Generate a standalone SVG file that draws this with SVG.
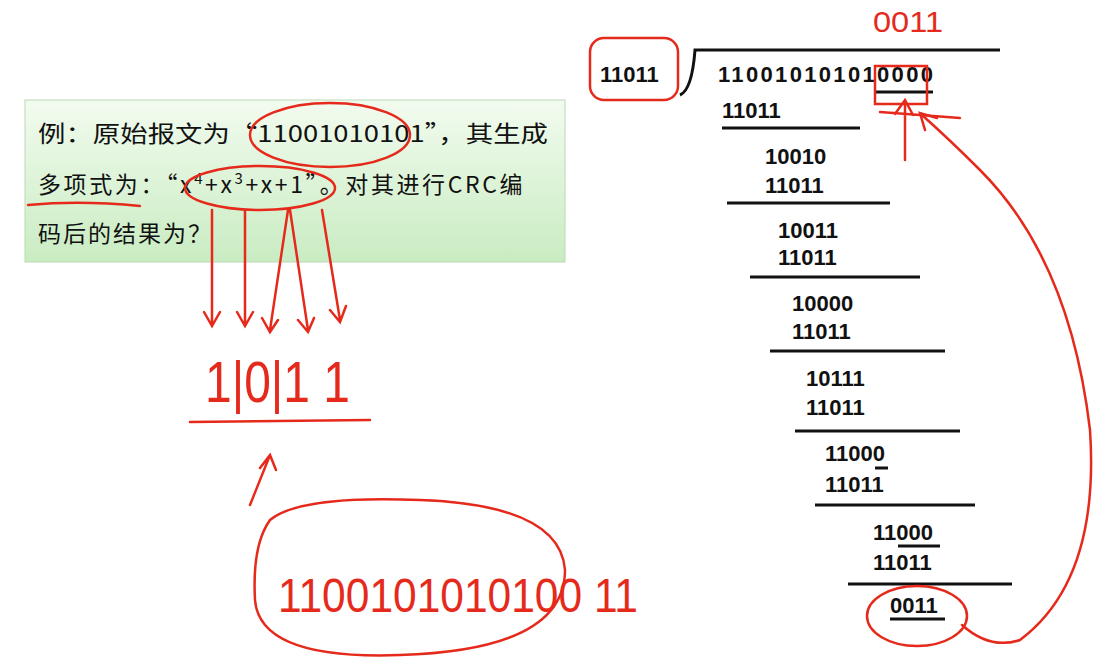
<svg xmlns="http://www.w3.org/2000/svg" width="1117" height="669" viewBox="0 0 1117 669">
<defs>
<linearGradient id="g" x1="0" y1="0" x2="0" y2="1"><stop offset="0" stop-color="#f2fbef"/><stop offset="1" stop-color="#c9ecc2"/></linearGradient>
<style>
.d{font-family:"Liberation Sans",Arial,sans-serif;font-weight:bold;font-size:22px;fill:#111}
.c{font-family:"Noto Sans CJK SC","Liberation Serif",serif;font-size:23px;fill:#111}
.k{stroke:#111;stroke-width:3;fill:none}
.r{stroke:#e52a1c;stroke-width:2.5;fill:none;stroke-linecap:round}
.h{font-family:"Liberation Sans",sans-serif;fill:#e52a1c}
</style>
</defs>
<rect width="1117" height="669" fill="#fff"/>
<g id="box">
<rect x="25" y="100" width="540" height="162" fill="url(#g)" stroke="#bcd9b5"/>
<text class="c" x="38" y="142" textLength="510" lengthAdjust="spacingAndGlyphs">例：原始报文为“11001010101”，其生成</text>
<text class="c" x="38" y="193" letter-spacing="2.6">多项式为：“x<tspan dy="-9" font-size="15">4</tspan><tspan dy="9">+x</tspan><tspan dy="-9" font-size="15">3</tspan><tspan dy="9">+x+1”。对其进行CRC编</tspan></text>
<text class="c" x="38" y="242" letter-spacing="2">码后的结果为？</text>
</g>
<g id="division">
<text class="d" x="600" y="82">11011</text>
<path class="k" d="M680 95 Q692 90 695 50 L1000 50"/>
<text class="d" x="718" y="82" textLength="215">110010101010000</text>
<line class="k" x1="876" y1="92" x2="933" y2="92" stroke-width="2"/>
<text class="d" x="722" y="118">11011</text><line class="k" x1="722" y1="128" x2="860" y2="128"/>
<text class="d" x="765" y="164">10010</text><text class="d" x="765" y="193">11011</text><line class="k" x1="727" y1="203" x2="890" y2="203"/>
<text class="d" x="778" y="238">10011</text><text class="d" x="778" y="265">11011</text><line class="k" x1="750" y1="277" x2="920" y2="277"/>
<text class="d" x="792" y="311">10000</text><text class="d" x="792" y="339">11011</text><line class="k" x1="770" y1="351" x2="945" y2="351"/>
<text class="d" x="806" y="386">10111</text><text class="d" x="806" y="415">11011</text><line class="k" x1="795" y1="431" x2="960" y2="431"/>
<text class="d" x="825" y="461">11000</text><line class="k" x1="875" y1="468" x2="888" y2="468" stroke-width="2"/><text class="d" x="825" y="492">11011</text><line class="k" x1="815" y1="505" x2="975" y2="505"/>
<text class="d" x="873" y="540">11000</text><line class="k" x1="898" y1="546" x2="940" y2="546" stroke-width="2"/><text class="d" x="873" y="570">11011</text><line class="k" x1="848" y1="584" x2="1012" y2="584"/>
<text class="d" x="890" y="613">0011</text><line class="k" x1="890" y1="619" x2="945" y2="619" stroke-width="2"/>
</g>
<g id="annotations">
<rect class="r" x="590" y="38" width="88" height="62" rx="14"/>
<rect class="r" x="875" y="66" width="52" height="38"/>
<text class="h" x="873" y="32" font-size="30" textLength="70" lengthAdjust="spacingAndGlyphs">0011</text>
<ellipse class="r" cx="330" cy="135" rx="80" ry="32"/>
<ellipse class="r" cx="260" cy="188" rx="75" ry="22"/>
<path class="r" d="M28 205 Q80 200 140 206"/>
<path class="r" d="M212 210 L212 325 M204 312 L212 326 L220 312 M245 210 L245 325 M237 312 L245 326 L253 312 M288 210 L270 330 M262 318 L270 332 L278 320 M290 210 L308 330 M298 320 L308 332 L314 318 M322 210 L340 320 M330 310 L340 322 L346 306"/>
<text class="h" x="205" y="402" font-size="58" textLength="145" lengthAdjust="spacingAndGlyphs">1|0|1 1</text>
<line class="r" x1="190" y1="422" x2="370" y2="420"/>
<path class="r" d="M250 505 L270 455 M260 468 L270 455 L276 470"/>
<path class="r" d="M270 520 Q300 495 420 500 Q560 505 565 570 Q565 650 400 655 Q260 660 255 600 Q252 545 270 520"/>
<text class="h" x="278" y="612" font-size="48" textLength="360" lengthAdjust="spacingAndGlyphs">1100101010100 11</text>
<path class="r" d="M905 160 L905 100 M895 114 L905 100 L913 115 M880 112 L960 118"/>
<ellipse class="r" cx="917" cy="616" rx="50" ry="30"/>
<path class="r" d="M962 625 Q990 650 1020 640 Q1100 580 1090 430 Q1070 260 980 170 Q950 140 922 115 M925 130 L920 113 L937 118"/>
</g>
</svg>
